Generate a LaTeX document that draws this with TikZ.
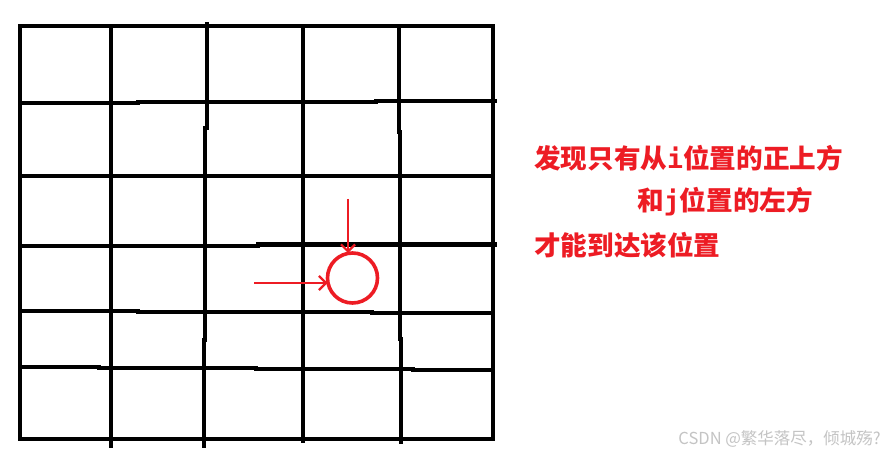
\documentclass[tikz,border=0pt]{standalone}
\usepackage{fontspec}
\newfontfamily\cjk{Noto Sans CJK SC}
\newfontfamily\monofam{DejaVu Sans Mono}
\usetikzlibrary{arrows.meta}
\definecolor{paintred}{HTML}{ED1C24}
\definecolor{wmgray}{HTML}{C4C4C4}
\begin{document}
\begin{tikzpicture}[x=1pt,y=-1pt,
  gridline/.style={line width=4.4pt, line cap=rect, black},
  redarrow/.style={line width=2pt, paintred, -{Straight Barb[length=7pt,width=14pt,line width=2.2pt]}},
  cellmark/.style={circle, draw=paintred, line width=3.6pt, minimum size=50pt, inner sep=0pt, outer sep=0pt},
  note/.style={anchor=west, inner sep=0pt, text=paintred, font=\cjk\bfseries\fontsize{26.6}{30}\selectfont},
  watermark/.style={anchor=east, inner sep=0pt, text=wmgray, font=\cjk\fontsize{16.5}{19}\selectfont}]
\fill[white] (0,0) rectangle (885,454);
\useasboundingbox (0,0) rectangle (885,454);
% outer frame
\draw[gridline, line join=miter] (20,26) rectangle (493,439);
% horizontal lines (hand drawn, in pieces)
\draw[gridline] (20,103) -- (138,103);
\draw[gridline] (138,102) -- (376,102);
\draw[gridline] (376,101) -- (495,101);
\draw[gridline] (20,176) -- (493,176);
\draw[gridline] (20,245.7) -- (258,245.7);
\draw[gridline] (258,244.3) -- (495,244.3);
\draw[gridline] (20,311) -- (138,311);
\draw[gridline] (138,312) -- (372,312);
\draw[gridline] (372,313) -- (493,313);
\draw[gridline] (20,367) -- (99,367);
\draw[gridline] (99,368) -- (256,368);
\draw[gridline] (256,369) -- (413,369);
\draw[gridline] (413,370) -- (493,370);
% vertical lines
\draw[gridline] (111,26) -- (111,446);
\draw[gridline] (207,24) -- (207,128);
\draw[gridline] (205,128) -- (205,340);
\draw[gridline] (204,340) -- (204,446);
\draw[gridline] (303,26) -- (303,441);
\draw[gridline] (399,26) -- (399,132);
\draw[gridline] (400,132) -- (400,339);
\draw[gridline] (401,339) -- (401,442);
% red mark
\node[cellmark] (cell) at (352.5,278) {};
\coordinate (fromtop) at (348,199);
\coordinate (fromleft) at (254,283);
\draw[redarrow] (fromtop) -- (fromtop |- cell.north);
\draw[redarrow] (fromleft) -- (cell.west |- fromleft);
% notes
\node[note] (t1) at (534,158) {发现只有从{\monofam\bfseries i}位置的正上方};
\node[note] (t2) at (637,202) {和{\monofam\bfseries j}位置的左方};
\node[note] (t3) at (534,245) {才能到达该位置};
\node[watermark] (wm) at (881,439) {CSDN @繁华落尽，倾城殇?};
\end{tikzpicture}
\end{document}
